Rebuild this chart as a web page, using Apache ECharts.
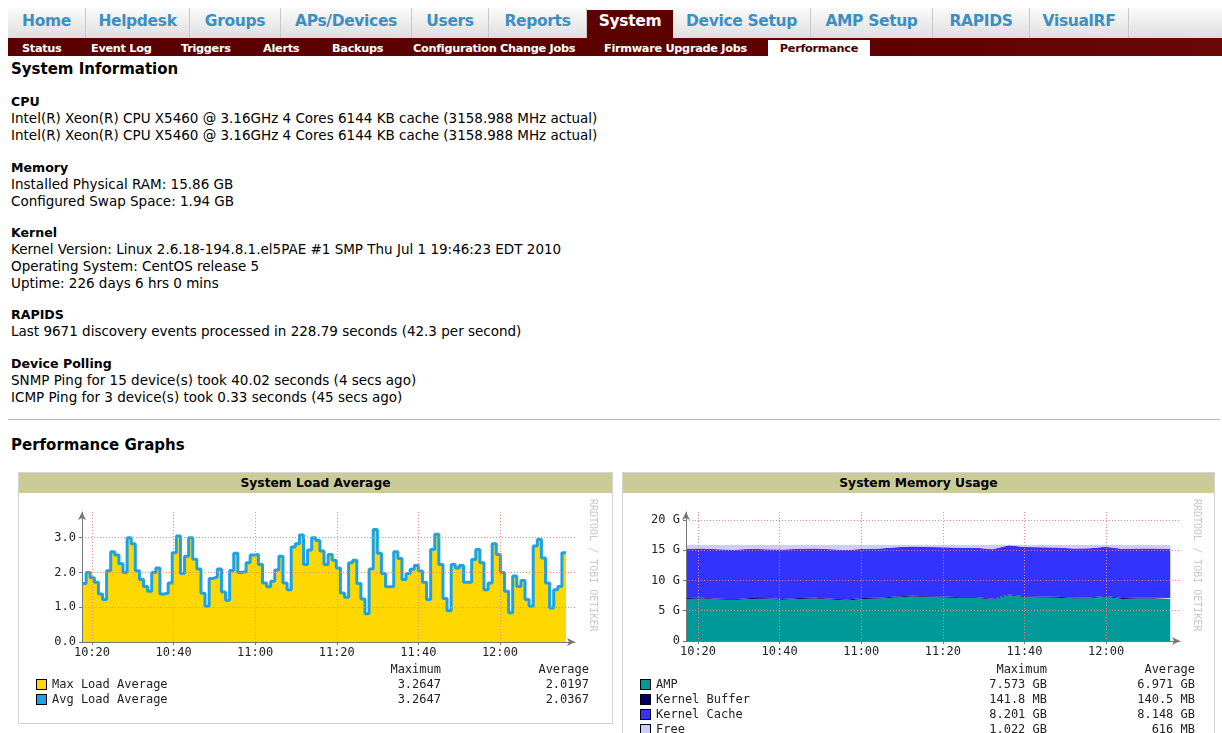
<!DOCTYPE html>
<html>
<head>
<meta charset="utf-8">
<script src="https://cdn.jsdelivr.net/npm/echarts@6/dist/echarts.min.js"></script>
<style>
body { margin: 0; width: 1222px; height: 733px; overflow: hidden; background: #fff; font-family: "DejaVu Sans", sans-serif; color: #000; position: relative; }
.abs { position: absolute; white-space: nowrap; }
#tabbar { position: absolute; left: 8px; top: 8px; width: 1214px; height: 30px; background: linear-gradient(#fbfbfb, #dedede); }
.tab { position: absolute; top: 8px; height: 30px; line-height: 26px; text-align: center; font-weight: bold; font-size: 15.5px; letter-spacing: -0.35px; color: #3c8fc3; border-right: 1px solid #c8c8c8; box-sizing: border-box; }
.tab.on { background: #5c0000; color: #fff; top: 10px; height: 28px; line-height: 22px; border-right: none; }
#subbar { position: absolute; left: 8px; top: 38px; width: 1214px; height: 18px; background: linear-gradient(90deg, #5a0000, #5e0000 70%, #6a0808); }
.sub { position: absolute; top: 40px; height: 17px; line-height: 17px; font-weight: bold; font-size: 11.3px; letter-spacing: -0.3px; color: #fff; }
.sub.on { background: #fff; color: #4a0000; text-align: center; }
h1 { position: absolute; margin: 0; font-size: 15px; font-weight: bold; line-height: 20px; left: 11px; }
.blk { position: absolute; left: 11px; font-size: 13.5px; line-height: 17px; white-space: nowrap; }
.blk b { font-size: 12.6px; }
.panel { position: absolute; border: 1px solid #d4d4d4; background: #fff; box-sizing: border-box; }
.phead { height: 20px; line-height: 20px; background: #cbcb99; text-align: center; font-weight: bold; font-size: 12.3px; }
.chart { position: absolute; }
.lg { position: absolute; font-family: "DejaVu Sans Mono", monospace; font-size: 12px; line-height: 15px; color: #222; white-space: nowrap; }
.box { position: absolute; width: 9px; height: 9px; border: 1px solid #000; }
.rrd { position: absolute; font-family: "DejaVu Sans Mono", monospace; font-size: 10px; color: #c8c8c8; transform-origin: 0 0; transform: rotate(90deg); white-space: nowrap; }
</style>
</head>
<body>

<div id="tabbar"></div>
<div id="subbar"></div>
<div id="nav"></div>

<h1 style="top:59px">System Information</h1>

<div class="blk" style="top:93px"><b>CPU</b><br>Intel(R) Xeon(R) CPU X5460 @ 3.16GHz 4 Cores 6144 KB cache (3158.988 MHz actual)<br>Intel(R) Xeon(R) CPU X5460 @ 3.16GHz 4 Cores 6144 KB cache (3158.988 MHz actual)</div>
<div class="blk" style="top:159px"><b>Memory</b><br>Installed Physical RAM: 15.86 GB<br>Configured Swap Space: 1.94 GB</div>
<div class="blk" style="top:224px"><b>Kernel</b><br>Kernel Version: Linux 2.6.18-194.8.1.el5PAE #1 SMP Thu Jul 1 19:46:23 EDT 2010<br>Operating System: CentOS release 5<br>Uptime: 226 days 6 hrs 0 mins</div>
<div class="blk" style="top:306px"><b>RAPIDS</b><br>Last 9671 discovery events processed in 228.79 seconds (42.3 per second)</div>
<div class="blk" style="top:355px"><b>Device Polling</b><br>SNMP Ping for 15 device(s) took 40.02 seconds (4 secs ago)<br>ICMP Ping for 3 device(s) took 0.33 seconds (45 secs ago)</div>

<div class="abs" style="left:8px;top:419px;width:1212px;height:0;border-top:1px solid #b4b4b4"></div>
<h1 style="top:435px">Performance Graphs</h1>

<div class="panel" style="left:18px;top:472px;width:595px;height:252px"><div class="phead">System Load Average</div></div>
<div class="panel" style="left:622px;top:472px;width:593px;height:270px"><div class="phead">System Memory Usage</div></div>

<div id="loadChart" class="chart" style="left:18px;top:493px;width:594px;height:170px"></div>
<div id="memChart" class="chart" style="left:622px;top:493px;width:592px;height:170px"></div>

<div class="rrd" style="left:599px;top:499px">RRDTOOL / TOBI OETIKER</div>
<div class="rrd" style="left:1203px;top:499px">RRDTOOL / TOBI OETIKER</div>

<div id="loadLegend"></div>
<div id="memLegend"></div>

<script>
// navigation
const mainTabs = ['Home', 'Helpdesk', 'Groups', 'APs/Devices', 'Users', 'Reports', 'System', 'Device Setup', 'AMP Setup', 'RAPIDS', 'VisualRF']
const tabEdges = [8, 86, 190, 281, 412, 489, 587, 673, 811, 933, 1030, 1129]
const subTabs = ['Status', 'Event Log', 'Triggers', 'Alerts', 'Backups', 'Configuration Change Jobs', 'Firmware Upgrade Jobs', 'Performance']
const subLeft = [22, 91, 181, 263, 332, 413, 604, 768]

// load average, one sample per minute (x = minutes after 10:00)
const loadValues = [
    1.68, 2.0, 1.85, 1.72, 1.38, 1.22, 2.05, 2.6, 2.5, 2.25, 2.0, 3.0, 2.83, 2.05, 1.8, 1.6,
    1.46, 2.0, 2.13, 1.38, 1.4, 1.7, 2.57, 3.05, 1.97, 2.47, 3.0, 2.38, 2.1, 1.4, 1.03,
    1.83, 1.87, 2.1, 1.44, 1.2, 2.06, 2.55, 2.0, 2.03, 2.28, 2.5, 2.52, 2.23, 1.7, 1.59,
    1.75, 2.07, 2.47, 1.7, 1.5, 2.73, 2.83, 3.08, 2.23, 2.65, 3.0, 2.92, 2.62, 2.23, 2.52,
    2.35, 2.13, 1.41, 1.29, 2.28, 2.35, 1.68, 1.24, 0.81, 2.1, 3.24, 2.55, 1.97, 1.59, 1.6,
    2.6, 2.4, 1.8, 1.97, 2.09, 2.2, 2.04, 1.72, 1.22, 2.66, 3.1, 2.23, 1.25, 0.9, 2.23, 2.13,
    2.2, 1.72, 1.72, 2.37, 2.66, 2.28, 1.5, 1.7, 2.83, 2.52, 2.0, 1.46, 0.84, 1.9, 1.6, 1.77,
    1.22, 1.03, 2.76, 2.95, 2.42, 1.7, 0.98, 1.5, 1.6, 2.57
]
const loadStart = 17.55
const loadStep = 1.0055

// memory usage in GB, samples about every 4 minutes
const ampMem = [6.95, 7.0, 6.85, 6.75, 6.95, 6.9, 6.8, 6.95, 7.0, 6.85, 6.7, 6.95, 7.0, 7.2, 7.35, 7.25, 7.2, 7.1, 7.1, 6.85, 7.55, 7.25, 7.2, 7.15, 7.0, 7.05, 7.3, 6.95, 7.0, 7.0, 6.95]
const bufferMem = [0.14, 0.14, 0.14, 0.14, 0.14, 0.14, 0.14, 0.14, 0.14, 0.14, 0.14, 0.14, 0.14, 0.14, 0.14, 0.14, 0.14, 0.14, 0.14, 0.14, 0.14, 0.14, 0.14, 0.14, 0.14, 0.14, 0.14, 0.14, 0.14, 0.14, 0.14]
const cacheMem = [8.15, 8.14, 8.16, 8.17, 8.15, 8.13, 8.16, 8.15, 8.14, 8.16, 8.18, 8.15, 8.14, 8.12, 8.13, 8.15, 8.16, 8.14, 8.15, 8.18, 8.1, 8.14, 8.15, 8.16, 8.15, 8.14, 8.12, 8.16, 8.15, 8.14, 8.15]
const freeMem = [0.62, 0.58, 0.71, 0.8, 0.62, 0.69, 0.76, 0.62, 0.58, 0.71, 0.84, 0.62, 0.58, 0.4, 0.24, 0.32, 0.36, 0.48, 0.47, 0.69, 0.07, 0.33, 0.37, 0.41, 0.57, 0.53, 0.3, 0.61, 0.57, 0.58, 0.62]
const memStart = 17.06
const memStep = 3.955

const tickMinutes = [20, 40, 60, 80, 100, 120]
const loadTicks = [0, 1, 2, 3]
const memTicks = [0, 5, 10, 15, 20]

const loadLegendRows = [['Max Load Average', '#ffd800', '3.2647', '2.0197'], ['Avg Load Average', '#1aa3e8', '3.2647', '2.0367']]
const memLegendRows = [['AMP', '#009999', '7.573 GB', '6.971 GB'], ['Kernel Buffer', '#000066', '141.8 MB', '140.5 MB'], ['Kernel Cache', '#3333ff', '8.201 GB', '8.148 GB'], ['Free', '#ccccff', '1.022 GB', '616 MB']]

// build nav
const nav = document.getElementById('nav')
mainTabs.forEach((t, i) => {
    const d = document.createElement('div')
    d.className = 'tab' + (t === 'System' ? ' on' : '')
    d.style.left = tabEdges[i] + 'px'
    d.style.width = (tabEdges[i + 1] - tabEdges[i]) + 'px'
    d.textContent = t
    nav.appendChild(d)
})
subTabs.forEach((t, i) => {
    const d = document.createElement('div')
    d.className = 'sub' + (t === 'Performance' ? ' on' : '')
    d.style.left = subLeft[i] + 'px'
    if (t === 'Performance') d.style.width = '102px'
    d.textContent = t
    nav.appendChild(d)
})

// rrd style legends
function legend(id, rows, left, maxRight, avgRight) {
    const el = document.getElementById(id)
    let html = '<div class="lg" style="top:662px;left:' + (maxRight - 200) + 'px;width:200px;text-align:right">Maximum</div>'
    html += '<div class="lg" style="top:662px;left:' + (avgRight - 200) + 'px;width:200px;text-align:right">Average</div>'
    rows.forEach((r, i) => {
        const top = 677 + i * 15
        html += '<div class="box" style="left:' + left + 'px;top:' + (top + 2) + 'px;background:' + r[1] + '"></div>'
        html += '<div class="lg" style="left:' + (left + 16) + 'px;top:' + top + 'px">' + r[0] + '</div>'
        html += '<div class="lg" style="top:' + top + 'px;left:' + (maxRight - 200) + 'px;width:200px;text-align:right">' + r[2] + '</div>'
        html += '<div class="lg" style="top:' + top + 'px;left:' + (avgRight - 200) + 'px;width:200px;text-align:right">' + r[3] + '</div>'
    })
    el.innerHTML = html
}
legend('loadLegend', loadLegendRows, 36, 441, 589)
legend('memLegend', memLegendRows, 640, 1047, 1195)

function clock(m) {
    const h = 10 + Math.floor(m / 60)
    const mm = m % 60
    return h + ':' + (mm < 10 ? '0' : '') + mm
}

const mono = { fontFamily: 'DejaVu Sans Mono', fontSize: 12, color: '#222' }
const axisLine = { lineStyle: { color: '#777' }, symbol: ['none', 'arrow'], symbolSize: [6, 8] }
const gridLine = { show: true, lineStyle: { color: '#ee8888', type: [1, 2], width: 1 } }

function xAxis(min, max) {
    return {
        type: 'value', position: 'bottom', z: 5, min: min, max: max,
        axisLine: axisLine,
        axisTick: { customValues: tickMinutes, length: 3, lineStyle: { color: '#777' } },
        axisLabel: Object.assign({ customValues: tickMinutes, formatter: clock, margin: 5 }, mono),
        splitLine: gridLine
    }
}
function yAxis(max, ticks, fmt) {
    return {
        type: 'value', z: 5, min: 0, max: max,
        axisLine: axisLine,
        axisTick: { customValues: ticks, length: 3, lineStyle: { color: '#777' } },
        axisLabel: Object.assign({ customValues: ticks, formatter: fmt, margin: 6 }, mono),
        splitLine: gridLine
    }
}

// load chart
const loadPts = loadValues.map((v, i) => [loadStart + i * loadStep, v])
loadPts.push([loadStart + loadValues.length * loadStep, loadValues[loadValues.length - 1]])

const loadChart = echarts.init(document.getElementById('loadChart'))
loadChart.setOption({
    animation: false,
    grid: { left: 64, top: 19, right: 37, bottom: 21 },
    xAxis: xAxis(17.55, 138.4),
    yAxis: yAxis(3.74, loadTicks, v => v.toFixed(1)),
    series: [
        { name: 'Max Load Average', type: 'line', step: 'end', data: loadPts, symbol: 'none',
          lineStyle: { width: 0 }, areaStyle: { color: '#ffd800', opacity: 1 } },
        { name: 'Avg Load Average', type: 'line', step: 'end', data: loadPts, symbol: 'none',
          lineStyle: { color: '#1aa3e8', width: 3 } }
    ]
})

// memory chart: series sit on a hidden time axis so the stack runs on y,
// the visible minute axis carries ticks, labels and grid
const base = Date.UTC(2011, 0, 1, 10, 0)
const at = m => base + m * 60000
const memT = ampMem.map((v, i) => at(memStart + i * memStep))
const pairs = arr => arr.map((v, i) => [memT[i], v])
const memSeries = [['AMP', ampMem, '#009999'], ['Kernel Buffer', bufferMem, '#000066'], ['Kernel Cache', cacheMem, '#3333ff'], ['Free', freeMem, '#ccccff']]

const memChart = echarts.init(document.getElementById('memChart'))
memChart.setOption({
    animation: false,
    grid: { left: 64, top: 19, right: 34, bottom: 22 },
    xAxis: [
        { type: 'time', show: false, min: at(17.06), max: at(138.1) },
        xAxis(17.06, 138.1)
    ],
    yAxis: yAxis(21.3, memTicks, v => v === 0 ? '0' : v + ' G'),
    series: memSeries.map(s => ({
        name: s[0], type: 'line', stack: 'mem', xAxisIndex: 0, data: pairs(s[1]), symbol: 'none',
        lineStyle: { width: 0 }, areaStyle: { color: s[2], opacity: 1 }
    }))
})
</script>
</body>
</html>
